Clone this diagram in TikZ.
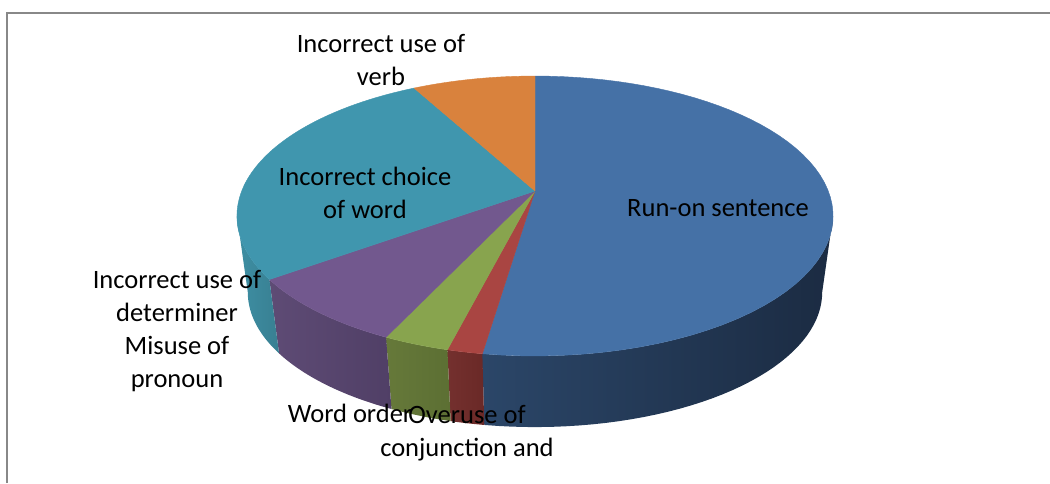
\documentclass[tikz,border=0pt]{standalone}
\usepackage{fontspec}
\setmainfont{Carlito}
\definecolor{runT}{HTML}{4571A6}
\definecolor{runSL}{HTML}{2B4668}
\definecolor{runSR}{HTML}{1B2B42}
\definecolor{conjT}{HTML}{A94542}
\definecolor{conjSL}{HTML}{74302E}
\definecolor{conjSR}{HTML}{6A2927}
\definecolor{wordT}{HTML}{88A44E}
\definecolor{wordSL}{HTML}{66793A}
\definecolor{wordSR}{HTML}{5C6F33}
\definecolor{detT}{HTML}{72588E}
\definecolor{detSL}{HTML}{5E4B75}
\definecolor{detSR}{HTML}{503F66}
\definecolor{choiceT}{HTML}{4096AE}
\definecolor{choiceSL}{HTML}{3E8FA3}
\definecolor{choiceSR}{HTML}{387F92}
\definecolor{verbT}{HTML}{D9823D}
\definecolor{frameC}{HTML}{888888}
\begin{document}
\begin{tikzpicture}[x=1pt,y=-1pt,
  declare function={
    px(\t)=535+293.3*cos(\t)/(1+0.1786*sin(\t));
    py(\t)=191-135.5*sin(\t)/(1+0.1786*sin(\t));
    qx(\t)=535+0.9636*(px(\t)-535);
    qy(\t)=2309-0.9636*(2309-py(\t));
  },
  lbl/.style={font=\fontsize{26.5}{32.5}\selectfont, align=center, inner sep=0pt, text=black}]
\useasboundingbox (0,0) rectangle (1050,483);

% chart frame
\draw[frameC, line width=1.5pt] (7,483) -- (7,13) -- (1050,13);

% side walls of the slices (front half only)
\newcommand{\sidewall}[4]{%
  \shade[left color=#3, right color=#4]
    plot[domain=#1:#2, samples=40] ({px(\x)},{py(\x)})
    -- plot[domain=#2:#1, samples=40] ({qx(\x)},{qy(\x)}) -- cycle;}
\sidewall{-10.3}{-98.5}{runSL}{runSR}
\sidewall{-98.5}{-104.3}{conjSL}{conjSR}
\sidewall{-104.3}{-115.2}{wordSL}{wordSR}
\sidewall{-115.2}{-144.2}{detSL}{detSR}
\sidewall{-144.2}{-169.7}{choiceSL}{choiceSR}

% top faces of the slices
\newcommand{\topface}[3]{%
  \fill[#3, draw=#3, line width=0.4pt, line join=round] (535,191)
    -- plot[domain=#1:#2, samples=60] ({px(\x)},{py(\x)}) -- cycle;}
\topface{90}{-98.5}{runT}
\topface{-98.5}{-104.3}{conjT}
\topface{-104.3}{-115.2}{wordT}
\topface{-115.2}{-144.2}{detT}
\topface{-144.2}{-241.5}{choiceT}
\topface{-241.5}{-270}{verbT}

% data labels
\node[lbl] (verb) at (381,60) {Incorrect use of\\verb};
\node[lbl] (choice) at (365,193) {Incorrect choice\\of word};
\node[lbl] (run) at (718,208) {Run-on sentence};
\node[lbl] (det) at (177,296) {Incorrect use of\\determiner};
\node[lbl] (pron) at (177,364) {Misuse of\\pronoun};
\node[lbl] (order) at (350,413) {Word order};
\node[lbl] (conj) at (467,433) {Overuse of\\conjunction and};
\end{tikzpicture}
\end{document}
